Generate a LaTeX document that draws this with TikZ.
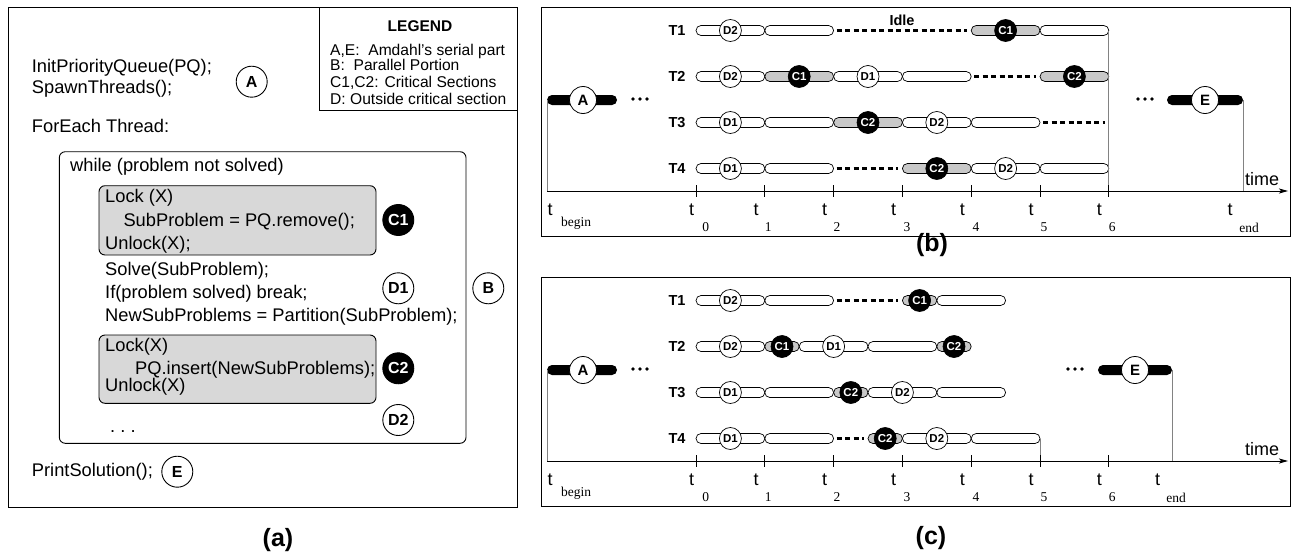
\documentclass[tikz,border=0pt]{standalone}
\usepackage{fontspec}
\setmainfont{Liberation Sans}
\newfontfamily\serifface{Liberation Serif}
\usetikzlibrary{arrows.meta}
\definecolor{boxgray}{RGB}{216,216,216}
\definecolor{pillgray}{RGB}{200,200,200}
\definecolor{linegray}{RGB}{130,130,130}
\newcommand\fs[1]{\fontsize{#1}{#1}\selectfont}
% x position of tick k on the time axis
\newcommand\tx[1]{696+68.8*(#1)}
% one work segment between ticks #1 and #2 on row #3, filled with #4
\newcommand\pill[4]{\draw[pillline, fill=#4] ({\tx{#1}},{#3-5}) rectangle ({\tx{#2}},{#3+5});}
% an idle stretch between ticks #1 and #2 on row #3
\newcommand\idleseg[3]{\draw[idleline] ({\tx{#1}+3},#3) -- ({\tx{#2}-4},#3);}
% tick labels t_begin, t_0 ... t_6 (panel prefix #1, vertical offset #2)
\newcommand\ticklabels[2]{%
  \node[tlab] (#1tb) at (550,{210+#2}) {t};
  \node[sublab] (#1sb) at (576,{223+#2}) {begin};
  \foreach \i/\xt/\xs in {0/691.7/705.7, 1/756/768.3, 2/824.7/837, 3/893.7/907,
                          4/962.3/976, 5/1031/1044, 6/1099.3/1112.3}{
    \node[tlab] (#1t\i) at (\xt,{210+#2}) {t};
    \node[sublab] (#1s\i) at (\xs,{227+#2}) {\i};
  }
}
\begin{document}
\begin{tikzpicture}[x=1pt,y=-1pt,
  frame/.style={draw, line width=1pt},
  code/.style={anchor=west, inner sep=0pt, font=\fs{18.3}, text height=13.3pt, text depth=3.8pt},
  legendline/.style={anchor=west, inner sep=0pt, font=\fs{15.6}, text height=11.3pt, text depth=3.2pt},
  tag/.style={circle, draw, line width=0.9pt, fill=white, minimum size=31pt, inner sep=0pt, font=\bfseries\fs{16}},
  tagcs/.style={tag, fill=black, text=white},
  codebox/.style={draw, line width=0.9pt, fill=boxgray, rounded corners=6pt},
  pillline/.style={draw, line width=0.7pt, rounded corners=5pt},
  idleline/.style={line width=3pt, dash pattern=on 5pt off 3.5pt},
  dcirc/.style={circle, draw, line width=0.7pt, fill=white, minimum size=22pt, inner sep=0pt, font=\bfseries\fs{11.5}},
  ccirc/.style={dcirc, fill=black, text=white},
  serial/.style={circle, draw, line width=0.8pt, fill=white, minimum size=27pt, inner sep=0pt, font=\bfseries\fs{15}},
  tname/.style={inner sep=0pt, font=\bfseries\fs{14.5}},
  tlab/.style={inner sep=0pt, font=\fs{18}},
  sublab/.style={inner sep=0pt, font=\serifface\fs{13.5}},
  vline/.style={draw=linegray, line width=0.8pt},
  axisline/.style={draw, line width=0.8pt, -{Stealth[length=9pt, width=5pt, inset=2pt]}},
  tickline/.style={draw, line width=0.8pt},
  caption/.style={inner sep=0pt, font=\bfseries\fs{25}}
]
\useasboundingbox (0,0) rectangle (1292,554);

% ---------------- (a) pseudo code ----------------
\draw[frame] (8,7) rectangle (517,507);
\draw[frame] (319,7) rectangle (517,110);
\node[inner sep=0pt, font=\bfseries\fs{15.5}] (legt) at (420,26) {LEGEND};
\node[legendline] (lg1) at (330,51) {A,E:\ \ Amdahl's serial part};
\node[legendline] (lg2) at (330,66.5) {B:\ \ Parallel Portion};
\node[legendline] (lg3) at (330,83) {C1,C2: Critical Sections};
\node[legendline] (lg4) at (330,100) {D: Outside critical section};

\node[code] (c1) at (31.7,68) {InitPriorityQueue(PQ);};
\node[code] (c2) at (31.7,88.5) {SpawnThreads();};
\node[tag] (tA) at (251.7,81.7) {A};
\node[code] (c3) at (31.7,128) {ForEach Thread:};

\draw[frame, line width=0.9pt, rounded corners=6pt] (59.3,151.7) rectangle (466,443.3);
\node[code] (c4) at (70,166.7) {while (problem not solved)};

\draw[codebox] (99,185.7) rectangle (376,255);
\node[code] (c5) at (105,197.5) {Lock (X)};
\node[code] (c6) at (123.3,221.7) {SubProblem = PQ.remove();};
\node[code] (c7) at (105,245) {Unlock(X);};
\node[tagcs] (tC1) at (398.3,220) {C1};

\node[code] (c8) at (105,271) {Solve(SubProblem);};
\node[code] (c9) at (105,293.3) {If(problem solved) break;};
\node[code] (c10) at (105,316.7) {NewSubProblems = Partition(SubProblem);};
\node[tag] (tD1) at (398.3,288.3) {D1};
\node[tag] (tB) at (488.3,288.3) {B};

\draw[codebox] (99,335) rectangle (376,403.3);
\node[code] (c11) at (105,346.7) {Lock(X)};
\node[code] (c12) at (135,369.3) {PQ.insert(NewSubProblems);};
\node[code] (c13) at (105,386.7) {Unlock(X)};
\node[tagcs] (tC2) at (398.3,368.3) {C2};
\node[tag] (tD2) at (398.3,420) {D2};
\node[code] (c14) at (110,428) {.\ .\ .};

\node[code] (c15) at (31.7,471.7) {PrintSolution();};
\node[tag] (tE) at (177.3,471.7) {E};
\node[caption] (capa) at (278,540) {(a)};

% ---------------- (b) schedule with long critical sections ----------------
\draw[frame] (541,7) rectangle (1290,236);
\node[tname] (bT1) at (677,30.5) {T1};
\node[tname] (bT2) at (677,76.5) {T2};
\node[tname] (bT3) at (677,122.5) {T3};
\node[tname] (bT4) at (677,168.5) {T4};
\node[inner sep=0pt, font=\bfseries\fs{14.5}] (bidle) at (902,20) {Idle};

% serial part A
\fill[rounded corners=5pt] (547,95) rectangle (617,105);
\node[serial] (bA) at (583,100) {A};
\foreach \x in {633,640,647} \fill (\x,99) circle (1.8);
\coordinate (bAl) at (547,100);
\coordinate (bAx) at (547,191);
\draw[vline] (bAl) -- (bAx);

% T1
\pill{0}{1}{30.5}{white} \node[dcirc] (b1a) at ({\tx{0.5}},30.5) {D2};
\pill{1}{2}{30.5}{white}
\idleseg{2}{4}{30.5}
\pill{4}{5}{30.5}{pillgray} \node[ccirc] (b1b) at ({\tx{4.5}},30.5) {C1};
\pill{5}{6}{30.5}{white}
% T2
\pill{0}{1}{76.5}{white} \node[dcirc] (b2a) at ({\tx{0.5}},76.5) {D2};
\pill{1}{2}{76.5}{pillgray} \node[ccirc] (b2b) at ({\tx{1.5}},76.5) {C1};
\pill{2}{3}{76.5}{white} \node[dcirc] (b2c) at ({\tx{2.5}},76.5) {D1};
\pill{3}{4}{76.5}{white}
\idleseg{4}{5}{76.5}
\pill{5}{6}{76.5}{pillgray} \node[ccirc] (b2d) at ({\tx{5.5}},76.5) {C2};
% T3
\pill{0}{1}{122.5}{white} \node[dcirc] (b3a) at ({\tx{0.5}},122.5) {D1};
\pill{1}{2}{122.5}{white}
\pill{2}{3}{122.5}{pillgray} \node[ccirc] (b3b) at ({\tx{2.5}},122.5) {C2};
\pill{3}{4}{122.5}{white} \node[dcirc] (b3c) at ({\tx{3.5}},122.5) {D2};
\pill{4}{5}{122.5}{white}
\idleseg{5}{6}{122.5}
% T4
\pill{0}{1}{168.5}{white} \node[dcirc] (b4a) at ({\tx{0.5}},168.5) {D1};
\pill{1}{2}{168.5}{white}
\idleseg{2}{3}{168.5}
\pill{3}{4}{168.5}{pillgray} \node[ccirc] (b4b) at ({\tx{3.5}},168.5) {C2};
\pill{4}{5}{168.5}{white} \node[dcirc] (b4c) at ({\tx{4.5}},168.5) {D2};
\pill{5}{6}{168.5}{white}

% join at t6
\coordinate (b6t) at ({\tx{6}},30.5);
\coordinate (b6x) at ({\tx{6}},191);
\draw[vline] (b6t) -- (b6x);

% serial part E
\foreach \x in {1138,1145,1152} \fill (\x,99) circle (1.8);
\fill[rounded corners=5pt] (1167,95) rectangle (1243,105);
\node[serial] (bE) at (1205,100) {E};
\coordinate (bEr) at (1243,100);
\coordinate (bEx) at (1243,191);
\draw[vline] (bEr) -- (bEx);

% time axis
\coordinate (bax0) at (547,191);
\coordinate (bax1) at (1288,191);
\draw[axisline] (bax0) -- (bax1);
\foreach \k in {0,...,6} \draw[tickline] ({\tx{\k}},185) -- ({\tx{\k}},197);
\node[tlab] (btime) at (1262,179) {time};
\ticklabels{b}{0}
\node[tlab] (bte) at (1230,210) {t};
\node[sublab] (bse) at (1249,228) {end};
\node[caption] (capb) at (932,245) {(b)};

% ---------------- (c) schedule with short critical sections ----------------
\draw[frame] (541,277) rectangle (1290,506);
\node[tname] (cT1) at (677,300.5) {T1};
\node[tname] (cT2) at (677,346.5) {T2};
\node[tname] (cT3) at (677,392.5) {T3};
\node[tname] (cT4) at (677,438.5) {T4};

\fill[rounded corners=5pt] (547,365) rectangle (617,375);
\node[serial] (cA) at (583,370) {A};
\foreach \x in {633,640,647} \fill (\x,369) circle (1.8);
\coordinate (cAl) at (547,370);
\coordinate (cAx) at (547,461);
\draw[vline] (cAl) -- (cAx);

% T1
\pill{0}{1}{300.5}{white} \node[dcirc] (c1a) at ({\tx{0.5}},300.5) {D2};
\pill{1}{2}{300.5}{white}
\idleseg{2}{3}{300.5}
\pill{3}{3.5}{300.5}{pillgray} \node[ccirc] (c1b) at ({\tx{3.25}},300.5) {C1};
\pill{3.5}{4.5}{300.5}{white}
% T2
\pill{0}{1}{346.5}{white} \node[dcirc] (c2a) at ({\tx{0.5}},346.5) {D2};
\pill{1}{1.5}{346.5}{pillgray} \node[ccirc] (c2b) at ({\tx{1.25}},346.5) {C1};
\pill{1.5}{2.5}{346.5}{white} \node[dcirc] (c2c) at ({\tx{2}},346.5) {D1};
\pill{2.5}{3.5}{346.5}{white}
\pill{3.5}{4}{346.5}{pillgray} \node[ccirc] (c2d) at ({\tx{3.75}},346.5) {C2};
% T3
\pill{0}{1}{392.5}{white} \node[dcirc] (c3a) at ({\tx{0.5}},392.5) {D1};
\pill{1}{2}{392.5}{white}
\pill{2}{2.5}{392.5}{pillgray} \node[ccirc] (c3b) at ({\tx{2.25}},392.5) {C2};
\pill{2.5}{3.5}{392.5}{white} \node[dcirc] (c3c) at ({\tx{3}},392.5) {D2};
\pill{3.5}{4.5}{392.5}{white}
% T4
\pill{0}{1}{438.5}{white} \node[dcirc] (c4a) at ({\tx{0.5}},438.5) {D1};
\pill{1}{2}{438.5}{white}
\idleseg{2}{2.5}{438.5}
\pill{2.5}{3}{438.5}{pillgray} \node[ccirc] (c4b) at ({\tx{2.75}},438.5) {C2};
\pill{3}{4}{438.5}{white} \node[dcirc] (c4c) at ({\tx{3.5}},438.5) {D2};
\pill{4}{5}{438.5}{white}

\coordinate (c5t) at ({\tx{5}},438.5);
\coordinate (c5x) at ({\tx{5}},461);
\draw[vline] (c5t) -- (c5x);

\foreach \x in {1068,1075,1082} \fill (\x,369) circle (1.8);
\fill[rounded corners=5pt] (1098,365) rectangle (1172,375);
\node[serial] (cE) at (1135,370) {E};
\coordinate (cEr) at (1172,370);
\coordinate (cEx) at (1172,461);
\draw[vline] (cEr) -- (cEx);

\coordinate (cax0) at (547,461);
\coordinate (cax1) at (1288,461);
\draw[axisline] (cax0) -- (cax1);
\foreach \k in {0,...,6} \draw[tickline] ({\tx{\k}},455) -- ({\tx{\k}},467);
\node[tlab] (ctime) at (1262,449) {time};
\ticklabels{c}{270}
\node[tlab] (cte) at (1157.7,480) {t};
\node[sublab] (cse) at (1176,498) {end};
\node[caption] (capc) at (931,538) {(c)};
\end{tikzpicture}
\end{document}
